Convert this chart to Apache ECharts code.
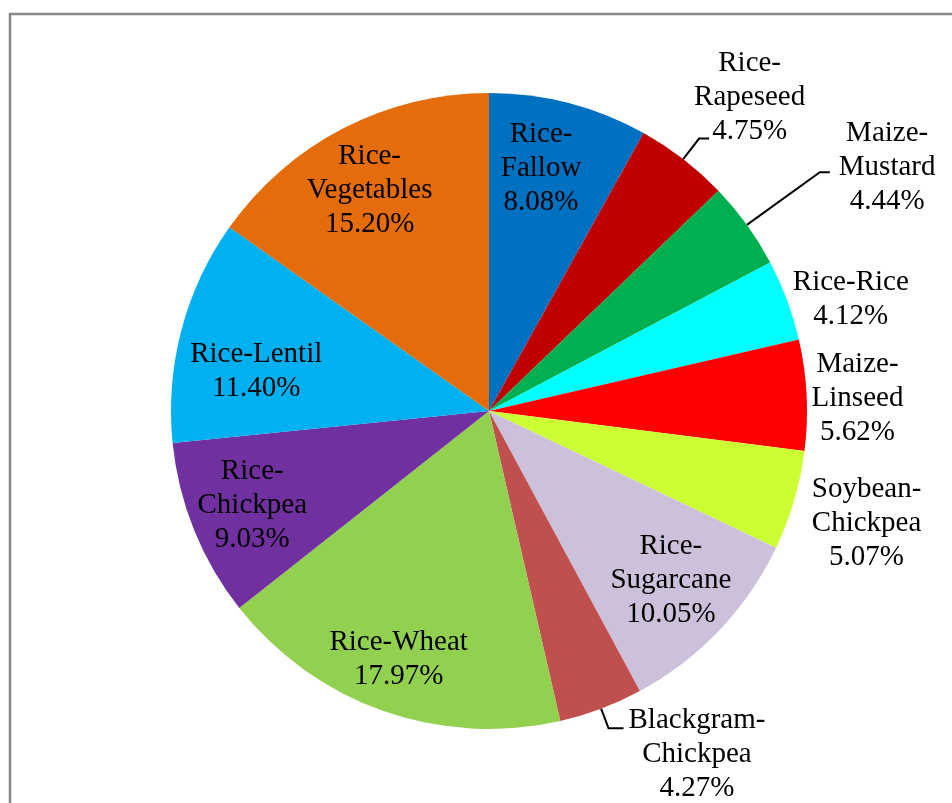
<!DOCTYPE html>
<html><head><meta charset="utf-8">
<script src="https://cdn.jsdelivr.net/npm/echarts@6/dist/echarts.min.js"></script>
<style>html,body{margin:0;padding:0;background:#fff}#c{width:952px;height:803px}</style>
</head><body><div id="c"></div>
<script>
const categories = ['Rice-Fallow','Rice-Rapeseed','Maize-Mustard','Rice-Rice','Maize-Linseed','Soybean-Chickpea','Rice-Sugarcane','Blackgram-Chickpea','Rice-Wheat','Rice-Chickpea','Rice-Lentil','Rice-Vegetables'];
const shares = [8.08,4.75,4.44,4.12,5.62,5.07,10.05,4.27,17.97,9.03,11.40,15.20];
const labelTexts = ['Rice-\nFallow','Rice-\nRapeseed','Maize-\nMustard','Rice-Rice','Maize-\nLinseed','Soybean-\nChickpea','Rice-\nSugarcane','Blackgram-\nChickpea','Rice-Wheat','Rice-\nChickpea','Rice-Lentil','Rice-\nVegetables'];
const colors = ['#0070C0','#C00000','#00B050','#00FFFF','#FF0000','#CCFF33','#CCC0DA','#C0504D','#92D050','#7030A0','#00B0F0','#E46C0A'];

// label placement settings for slices labelled outside the pie
const outsideCfg = {
  1: {len:26, len2:10, dist:-15, line:true,  pad:[0,0,82,0]},
  2: {len:90, len2:10, dist:9,   line:true,  pad:[0,0,10,0]},
  3: {len:3,  len2:0,  dist:3,   line:false, pad:0},
  4: {len:4,  len2:0,  dist:1,   line:false, pad:[8,0,0,0]},
  5: {len:8,  len2:0,  dist:10,  line:false, pad:[42,0,0,0]},
  7: {len:21, len2:15, dist:5,   line:true,  pad:[52,0,0,0]}
};
// fine offsets (padding) for labels drawn inside the slices
const insidePad = {
  0: [0,22,0,0],
  6: [0,0,8,0],
  8: [24,14,0,0],
  9: [0,8,0,0],
  10: [48,0,0,20],
  11: [4,8,0,0]
};

const FONT = "'Liberation Serif','Times New Roman',serif";
const CX = 489, CY = 411, R = 318;

function fmt(p){
  const i = p.dataIndex;
  return labelTexts[i].split('\n').map(s => '{c|' + s + '}').join('\n') + '\n{c|' + shares[i].toFixed(2) + '%}';
}

const pieData = categories.map((n, i) => ({name:n, value:shares[i], itemStyle:{color:colors[i]}}));

const labelData = categories.map((n, i) => {
  const o = outsideCfg[i];
  if (o) {
    return {
      name:n, value:shares[i],
      label:{position:'outside', distanceToLabelLine:o.dist, padding:o.pad},
      labelLine:{show:o.line, length:o.len, length2:o.len2}
    };
  }
  return {name:n, value:shares[i], label:{position:'inside', padding:insidePad[i] || 0}, labelLine:{show:false}};
});

const chart = echarts.init(document.getElementById('c'), null, {renderer:'canvas'});
chart.setOption({
  backgroundColor:'#fff',
  animation:false,
  graphic:[{type:'rect', shape:{x:10, y:14, width:1200, height:1200}, style:{fill:'none', stroke:'#888', lineWidth:2.5}, silent:true}],
  series:[
    {
      type:'pie', center:[CX, CY], radius:[0, R], startAngle:90, clockwise:true,
      data:pieData, label:{show:false}, labelLine:{show:false},
      itemStyle:{borderWidth:0}, emphasis:{disabled:true}, silent:true
    },
    {
      type:'pie', center:[CX, CY], radius:[R*0.56, R], startAngle:90, clockwise:true,
      avoidLabelOverlap:false, silent:true, emphasis:{disabled:true},
      labelLayout:{hideOverlap:false},
      itemStyle:{color:'rgba(0,0,0,0)', borderWidth:0},
      label:{
        show:true, formatter:fmt, color:'#000', fontFamily:FONT, fontSize:29, lineHeight:34,
        rich:{c:{align:'center', color:'#000', fontFamily:FONT, fontSize:29, lineHeight:34}}
      },
      labelLine:{lineStyle:{color:'#000', width:2}},
      data:labelData
    }
  ]
});
</script></body></html>
